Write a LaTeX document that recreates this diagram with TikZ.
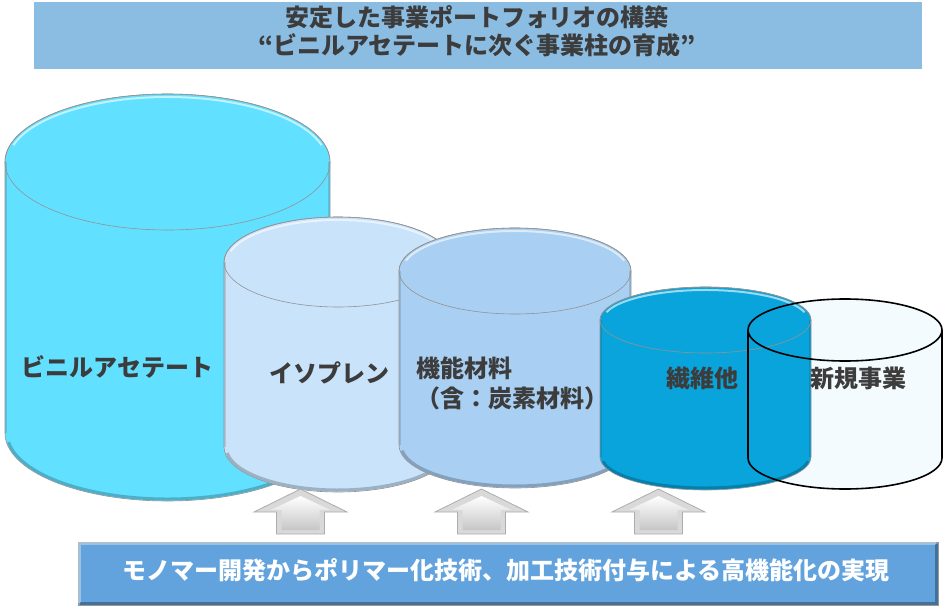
\documentclass[tikz,border=0pt]{standalone}
\usepackage{fontspec}
\setmainfont{Noto Sans CJK JP}
\usepackage{tikz}

\definecolor{titleblue}{HTML}{8BBDE3}
\definecolor{bandblue}{HTML}{62A3DE}
\definecolor{textgray}{HTML}{3C3C3C}
\definecolor{cylA}{HTML}{62E0FF}
\definecolor{cylB}{HTML}{C9E3FA}
\definecolor{cylC}{HTML}{A9CFF2}
\definecolor{cylD}{HTML}{08A4DB}
\definecolor{cylE}{HTML}{F3FBFE}

\tikzset{
	drumtext/.style={font=\bfseries\fontsize{24}{30}\selectfont, text=textgray, inner sep=0pt},
	titletext/.style={font=\bfseries\fontsize{24}{28}\selectfont, text=textgray, inner sep=0pt, align=center},
	band/.style={fill=bandblue, draw=gray!80, line width=.8pt, minimum width=860, minimum height=63,
		font=\bfseries\fontsize{24}{28}\selectfont, text=white, inner sep=0pt},
}

\begin{document}
\begin{tikzpicture}[x=1pt, y=-1pt]

	\useasboundingbox (0,0) rectangle (946,610);

	% title bar
	\fill[titleblue] (34,2) rectangle (922,69);
	\node[titletext] (title) at (477,31) {安定した事業ポートフォリオの構築\\“ビニルアセテートに次ぐ事業柱の育成”};

	% new business drum, filled behind the fibre drum
	\fill[cylE] (748,330) -- (748,458) arc[start angle=180, end angle=0, x radius=97, y radius=31]
		-- (942,330) arc[start angle=0, end angle=-180, x radius=97, y radius=31] -- cycle;

	% drums
	\foreach \cx/\rx/\yt/\yb/\ry/\col in {167.5/162.5/162/433/68/cylA, 338/114/262/447/45/cylB,
		515/116/271/445/43/cylC, 705.5/105.5/320/457/33/cylD} {
		\fill[\col] (\cx-\rx,\yt) -- (\cx-\rx,\yb) arc[start angle=180, end angle=0, x radius=\rx, y radius=\ry]
			-- (\cx+\rx,\yt) arc[start angle=0, end angle=-180, x radius=\rx, y radius=\ry] -- cycle;
		\draw[black, opacity=.12, line width=2pt] (\cx-\rx+1,\yt) -- (\cx-\rx+1,\yb);
		\draw[black, opacity=.12, line width=2pt] (\cx+\rx-1,\yt) -- (\cx+\rx-1,\yb);
		\draw[black, opacity=.22, line width=3pt] (\cx,\yb) ++(172:\rx-2 and \ry-2)
			arc[start angle=172, end angle=8, x radius=\rx-2, y radius=\ry-2];
		\draw[white, opacity=.6, line width=2pt] (\cx,\yt) ++(-165:\rx-3 and \ry-3)
			arc[start angle=-165, end angle=-15, x radius=\rx-3, y radius=\ry-3];
		\draw[gray!85, line width=.6pt] (\cx-\rx,\yt) -- (\cx-\rx,\yb) arc[start angle=180, end angle=0, x radius=\rx, y radius=\ry]
			-- (\cx+\rx,\yt) arc[start angle=0, end angle=-180, x radius=\rx, y radius=\ry] -- cycle;
		\draw[gray!85, line width=.6pt] (\cx,\yt) ellipse [x radius=\rx, y radius=\ry];
	}

	% new business drum, outline on top
	\draw[black, line width=1.6pt] (748,330) -- (748,458) arc[start angle=180, end angle=0, x radius=97, y radius=31]
		-- (942,330);
	\draw[black, line width=1.6pt] (845,330) ellipse [x radius=97, y radius=31];

	\node[drumtext] (vinyl) at (117.5,367) {ビニルアセテート};
	\node[drumtext] (iso) at (329,373) {イソプレン};
	\node[drumtext, align=left, anchor=west] (func) at (416,383) {機能材料\\（含：炭素材料）};
	\node[drumtext] (fiber) at (702,378) {繊維他};
	\node[drumtext] (newbiz) at (858.5,378) {新規事業};

	% up arrows
	\foreach \ax in {300.5,481.5,658.5} {
		\filldraw[fill=gray!30, draw=gray!65, line width=.8pt] (\ax,489) -- (\ax+46.5,512) -- (\ax+24,512) -- (\ax+24,534)
			-- (\ax-24,534) -- (\ax-24,512) -- (\ax-46.5,512) -- cycle;
		\shade[top color=white, bottom color=gray!45] (\ax,496) -- (\ax+30,510) -- (\ax+19,510) -- (\ax+19,530)
			-- (\ax-19,530) -- (\ax-19,510) -- (\ax-30,510) -- cycle;
	}

	% bottom band
	\node[band] (bottom) at (508,573.5) {};
	\draw[white, opacity=.35, line width=2.5pt] ([shift={(2pt,2pt)}]bottom.south west) -- ([shift={(2pt,-2pt)}]bottom.north west)
		-- ([shift={(-2pt,-2pt)}]bottom.north east);
	\draw[black, opacity=.3, line width=2.5pt] ([shift={(-2pt,-2pt)}]bottom.north east) -- ([shift={(-2pt,2pt)}]bottom.south east)
		-- ([shift={(2pt,2pt)}]bottom.south west);
	\node[band, fill=none, draw=none] (bandtext) at (506,570) {モノマー開発からポリマー化技術、加工技術付与による高機能化の実現};

\end{tikzpicture}
\end{document}
